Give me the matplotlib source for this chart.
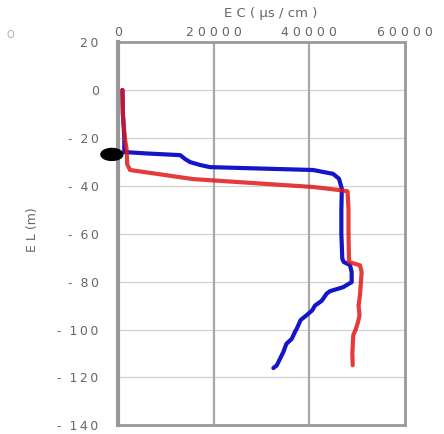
import matplotlib
matplotlib.use("Agg")
import matplotlib.pyplot as plt
from matplotlib.patches import Ellipse

# EC profiles (uS/cm) against elevation (m)
blue_el = [0, -10, -20, -25.9, -26.5, -27.2, -28.8, -30.1, -31.3, -32.2, -33.4, -35.0, -37.0,
           -41.2, -50, -60, -70.5, -71.8, -73.1, -76.0, -80.2, -82.3, -84.0, -85.0, -88.0,
           -90.0, -92.0, -94.0, -96.0, -99.7, -101.0, -103.9, -106.0, -109.4, -112.5, -115.0, -116.1]
blue_ec = [900, 1000, 1300, 1300, 6000, 13000, 14000, 15050, 17140, 19200, 40770, 44950, 46200,
           46800, 46700, 46700, 46900, 47200, 48500, 48860, 48860, 47100, 44320, 43630, 42600,
           41190, 40600, 39450, 38200, 37360, 37000, 36320, 35200, 34560, 33800, 33180, 32470]

red_el = [0, -10, -20, -25, -31, -33.4, -37.2, -40.5, -41.8, -42.3, -50, -60, -71.8, -73.2,
          -76.0, -80.0, -85.6, -90.0, -94.0, -97.0, -100.0, -102.3, -106.0, -110.0, -114.9]
red_ec = [900, 1000, 1400, 1800, 1900, 2500, 15700, 40800, 46400, 48000, 48200, 48200, 48300, 50600,
          50950, 50800, 50600, 50300, 50500, 50180, 49700, 49200, 49100, 49000, 49070]

water_level = -26.9
y_ticks = [20, 0, -20, -40, -60, -80, -100, -120, -140]
y_labels = ["2\u20090", "0", "-  2\u20090", "-  4\u20090", "-  6\u20090", "-  8\u20090",
            "-  1\u20090\u20090", "-  1\u20092\u20090", "-  1\u20094\u20090"]
x_ticks = [0, 20000, 40000, 60000]
x_labels = ["0", "2 0 0 0 0", "4 0 0 0 0", "6 0 0 0 0"]

grey = "#666666"

fig = plt.figure(figsize=(4.44, 4.34), dpi=100)
ax = fig.add_axes([0.266, 0.02, 0.646, 0.883])

ax.plot(blue_ec, blue_el, color="#1414c8", lw=3, solid_capstyle="round", zorder=3)
ax.plot(red_ec, red_el, color="#e01818", lw=3, alpha=0.85, solid_capstyle="round", zorder=4)

# water level marker sitting on the left spine
ax.add_patch(Ellipse((-1300, water_level), 4600, 5.0, color="black", clip_on=False, zorder=6))

ax.set_xlim(0, 60000)
ax.set_ylim(-140, 20)
ax.xaxis.tick_top()
ax.set_xticks(x_ticks)
ax.set_xticklabels(x_labels)
ax.set_yticks(y_ticks)
ax.set_yticklabels(y_labels)
ax.tick_params(length=0, labelsize=9, labelcolor=grey)
ax.tick_params(axis="x", pad=2)
ax.tick_params(axis="y", pad=14)

fig.text(271 / 444, 1 - 13 / 434, "E C ( μs / cm )", fontsize=9.5, color=grey,
         ha="center", va="center")
fig.text(32 / 444, 1 - 230 / 434, "E L (m)", fontsize=9, color=grey,
         rotation=90, ha="center", va="center")
fig.text(10 / 444, 1 - 35 / 434, "O", fontsize=7, color="#aaaaaa", ha="center", va="center")

for y in y_ticks[1:-1]:
    ax.axhline(y, color="#d0d0d0", lw=0.9, zorder=1)
for x in x_ticks[1:-1]:
    ax.axvline(x, color="#a8a8a8", lw=1.6, zorder=1)

for s in ax.spines.values():
    s.set_color("#999999")
    s.set_linewidth(2)
ax.spines["left"].set_linewidth(3)

fig.savefig("out.png", dpi=100)
